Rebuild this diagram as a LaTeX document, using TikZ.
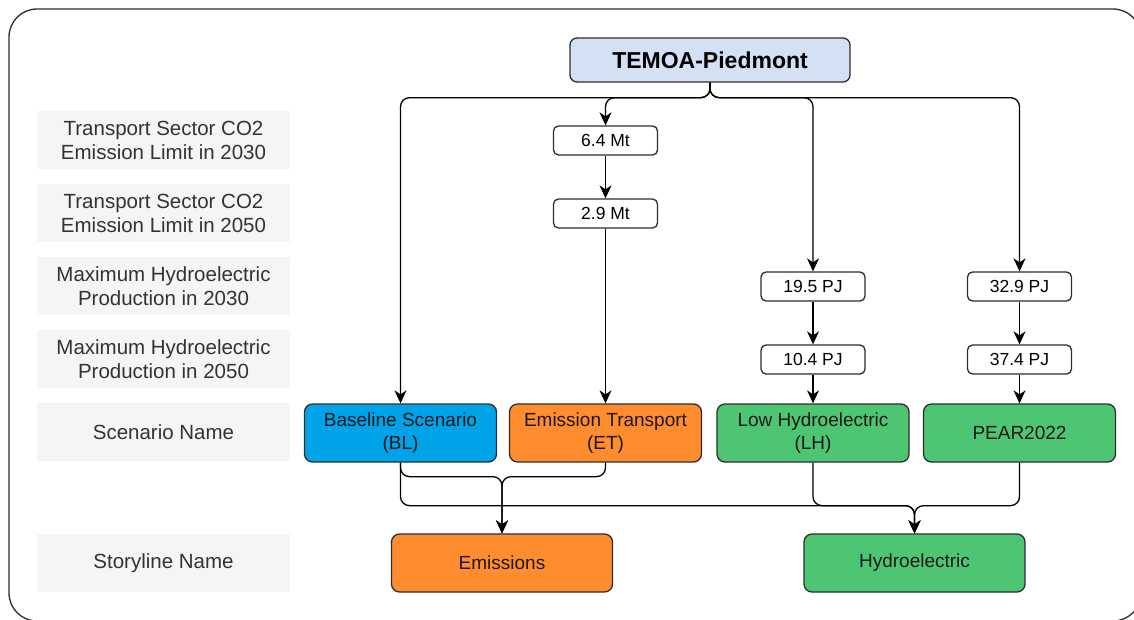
\documentclass[tikz,border=0pt]{standalone}
\usepackage{fontspec}
\setmainfont{Liberation Sans}
\usepackage{xcolor}
\usepackage{tikz}
\usetikzlibrary{arrows.meta}
\definecolor{modelblue}{RGB}{212, 225, 245}
\definecolor{baseblue}{RGB}{0, 163, 232}
\definecolor{emisorange}{RGB}{255, 140, 46}
\definecolor{hydrogreen}{RGB}{77, 197, 114}
\definecolor{rowgray}{RGB}{245, 245, 245}
\definecolor{rowtext}{RGB}{51, 51, 51}
\definecolor{boxline}{RGB}{45, 45, 45}

\begin{document}
\begin{tikzpicture}[x=1pt, y=-1pt,
    rowlabel/.style={fill=rowgray, text=rowtext, align=center, inner sep=0pt,
        minimum width=253pt, minimum height=58pt, font=\fontsize{20.5}{24}\selectfont},
    valbox/.style={draw=boxline, line width=1.3pt, fill=white, rounded corners=5pt, inner sep=0pt,
        minimum width=104pt, minimum height=29pt, font=\fontsize{17.5}{21}\selectfont},
    scenbox/.style={draw=boxline, line width=1.3pt, rounded corners=8pt, align=center, inner sep=0pt,
        minimum width=192pt, minimum height=58pt, text=black!90, font=\fontsize{19}{23.5}\selectfont},
    storybox/.style={scenbox, minimum width=221pt},
    link/.style={line width=1.3pt, rounded corners=9pt, -{Stealth[length=13pt, width=12pt, inset=4pt]}}]
    \useasboundingbox (0,0) rectangle (1134,619);
    \draw[boxline, line width=1.3pt, rounded corners=28pt] (9,9) rectangle (1141,621);
    % row labels on the left
    \node[rowlabel] (r2030) at (163.5,140) {Transport Sector CO2\\Emission Limit in 2030};
    \node[rowlabel] (r2050) at (163.5,213) {Transport Sector CO2\\Emission Limit in 2050};
    \node[rowlabel] (h2030) at (163.5,286) {Maximum Hydroelectric\\Production in 2030};
    \node[rowlabel] (h2050) at (163.5,359) {Maximum Hydroelectric\\Production in 2050};
    \node[rowlabel] (scen) at (163.5,432) {Scenario Name};
    \node[rowlabel] (story) at (163.5,563) {Storyline Name};
    % model
    \node[draw=boxline, line width=1.3pt, fill=modelblue, rounded corners=7pt, minimum width=280pt,
        minimum height=44pt, font=\fontsize{23}{27}\selectfont\bfseries] (temoa) at (710,60) {TEMOA-Piedmont};
    % limits
    \node[valbox] (co30) at (605.5,140.5) {6.4 Mt};
    \node[valbox] (co50) at (605.5,213.5) {2.9 Mt};
    \node[valbox] (lh30) at (813,286.5) {19.5 PJ};
    \node[valbox] (lh50) at (813,359.5) {10.4 PJ};
    \node[valbox] (pe30) at (1019.5,286.5) {32.9 PJ};
    \node[valbox] (pe50) at (1019.5,359.5) {37.4 PJ};
    % scenarios and storylines
    \node[scenbox, fill=baseblue] (bl) at (400.5,433) {Baseline Scenario\\(BL)};
    \node[scenbox, fill=emisorange] (et) at (605.5,433) {Emission Transport\\(ET)};
    \node[scenbox, fill=hydrogreen] (lh) at (813,433) {Low Hydroelectric\\(LH)};
    \node[scenbox, fill=hydrogreen] (pear) at (1019.5,433) {PEAR2022};
    \node[storybox, fill=emisorange] (emis) at (502,563) {Emissions};
    \node[storybox, fill=hydrogreen] (hydro) at (914.5,563) {Hydroelectric};
    % connectors
    \draw[link] (temoa.south) -- ++(0,15) -| (bl.north);
    \draw[link] (temoa.south) -- ++(0,15) -| (co30.north);
    \draw[link] (temoa.south) -- ++(0,15) -| (lh30.north);
    \draw[link] (temoa.south) -- ++(0,15) -| (pe30.north);
    \draw[link] (co30) -- (co50);
    \draw[link] (co50) -- (et);
    \draw[link] (lh30) -- (lh50);
    \draw[link] (lh50) -- (lh);
    \draw[link] (pe30) -- (pe50);
    \draw[link] (pe50) -- (pear);
    \draw[link] (bl.south) -- ++(0,14) -| (emis.north);
    \draw[link] (et.south) -- ++(0,14) -| (emis.north);
    \draw[link] (bl.south) -- ++(0,43) -| (hydro.north);
    \draw[link] (lh.south) -- ++(0,43) -| (hydro.north);
    \draw[link] (pear.south) -- ++(0,43) -| (hydro.north);
\end{tikzpicture}
\end{document}
